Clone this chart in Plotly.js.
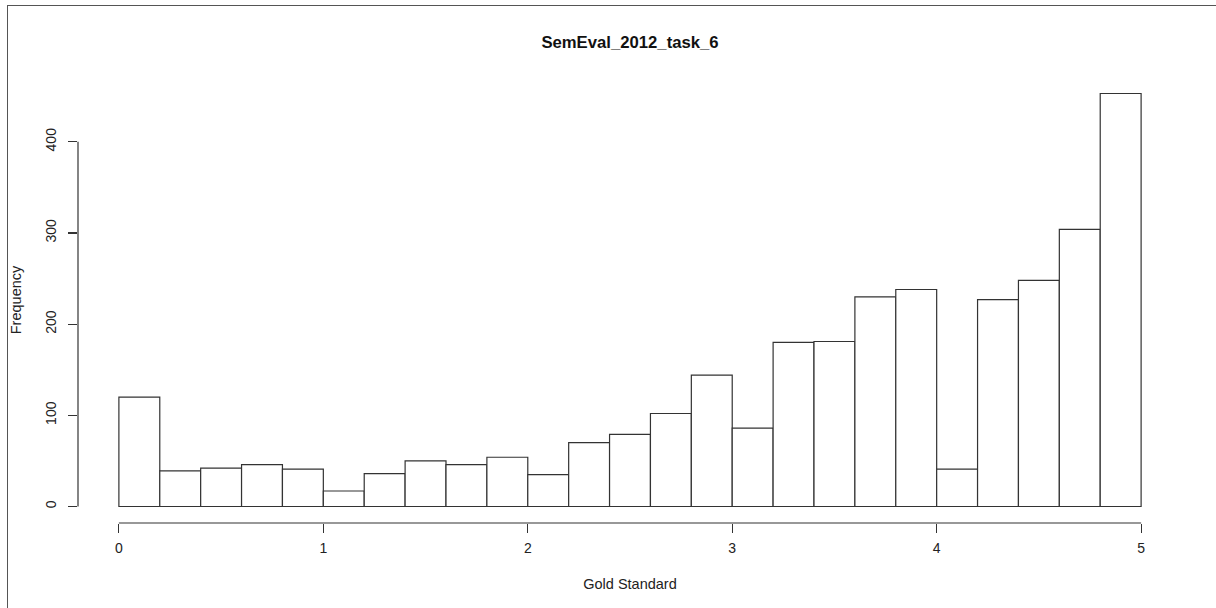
<!DOCTYPE html>
<html>
<head>
<meta charset="utf-8">
<script src="https://cdn.plot.ly/plotly-3.0.1.min.js"></script>
<style>
  html, body { margin: 0; padding: 0; background: #fff; }
  #wrap { position: relative; width: 1216px; height: 608px; }
  #chart { width: 1216px; height: 608px; }
  #frame { position: absolute; left: 7px; top: 5px; right: 0; bottom: 0;
           border-top: 1px solid #555; border-left: 1px solid #555; pointer-events: none; }
</style>
</head>
<body>
<div id="wrap">
  <div id="chart"></div>
  <div id="frame"></div>
</div>
<script>
// Histogram bin edges (Gold Standard) and counts per bin
const breaks = [0, 0.2, 0.4, 0.6, 0.8, 1.0, 1.2, 1.4, 1.6, 1.8, 2.0, 2.2, 2.4, 2.6, 2.8, 3.0,
                3.2, 3.4, 3.6, 3.8, 4.0, 4.2, 4.4, 4.6, 4.8, 5.0];
const counts = [120, 39, 42, 46, 41, 17, 36, 50, 46, 54, 35, 70, 79, 102, 144, 86,
                180, 181, 230, 238, 41, 227, 248, 304, 453];
const xTicks = [0, 1, 2, 3, 4, 5];
const yTicks = [0, 100, 200, 300, 400];
const chartTitle = "SemEval_2012_task_6";
const xLabel = "Gold Standard";
const yLabel = "Frequency";

const mids = [], widths = [];
for (let i = 0; i < counts.length; i++) {
  mids.push((breaks[i] + breaks[i + 1]) / 2);
  widths.push(breaks[i + 1] - breaks[i]);
}
const xmin = breaks[0], xmax = breaks[breaks.length - 1];
const ymax = Math.max(...counts);
const xpad = 0.04 * (xmax - xmin), ypad = 0.04 * ymax;

const font = "Liberation Sans, Arial, Helvetica, sans-serif";
const ink = "#333";

const trace = {
  type: "bar",
  x: mids,
  y: counts,
  width: widths,
  marker: { color: "#ffffff", line: { color: ink, width: 1.2 } },
  hoverinfo: "x+y"
};

const layout = {
  width: 1216, height: 608,
  margin: { l: 78, r: 34, t: 77, b: 85 },
  paper_bgcolor: "#fff", plot_bgcolor: "#fff",
  showlegend: false,
  bargap: 0,
  font: { family: font, size: 14, color: "#222" },
  title: { text: "<b>" + chartTitle + "</b>", font: { family: font, size: 16.7, color: "#111" },
           x: 0.5, xref: "paper", xanchor: "center", y: 1 - 42 / 608, yanchor: "middle" },
  xaxis: {
    range: [xmin - xpad, xmax + xpad],
    tickmode: "array", tickvals: xTicks, ticktext: xTicks.map(String),
    ticks: "outside", ticklen: 9, tickwidth: 1.2, tickcolor: ink,
    ticklabelstandoff: 3,
    showgrid: false, zeroline: false, showline: false,
    tickfont: { family: font, size: 14, color: "#222" },
    title: { text: xLabel, font: { family: font, size: 14.5, color: "#222" }, standoff: 24 },
    fixedrange: true
  },
  yaxis: {
    range: [-ypad, ymax + ypad],
    tickmode: "array", tickvals: yTicks, ticktext: yTicks.map(String),
    ticks: "outside", ticklen: 9, tickwidth: 1.2, tickcolor: ink,
    tickangle: -90,
    ticklabelstandoff: 6,
    showgrid: false, zeroline: false, showline: false,
    tickfont: { family: font, size: 14, color: "#222" },
    title: { text: yLabel, font: { family: font, size: 14.5, color: "#222" }, standoff: 18 },
    fixedrange: true
  },
  shapes: [
    { type: "line", xref: "x", yref: "paper", x0: xTicks[0], x1: xTicks[xTicks.length - 1], y0: 0, y1: 0,
      line: { color: ink, width: 1.2 } },
    { type: "line", xref: "paper", yref: "y", x0: 0, x1: 0, y0: yTicks[0], y1: yTicks[yTicks.length - 1],
      line: { color: ink, width: 1.2 } }
  ]
};

Plotly.newPlot("chart", [trace], layout, { displayModeBar: false, staticPlot: true });
</script>
</body>
</html>
